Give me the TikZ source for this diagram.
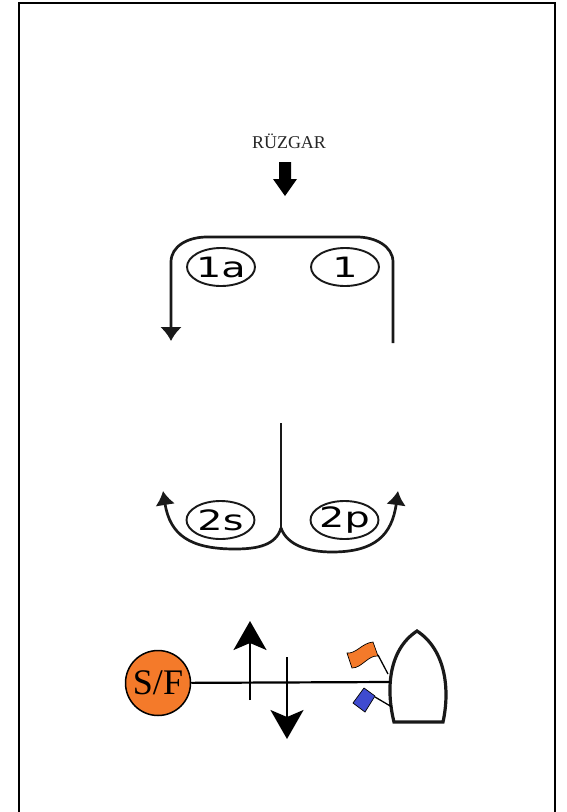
\documentclass[tikz,border=0pt]{standalone}
\usepackage{fontspec}
\setmainfont{Liberation Serif}
\newfontfamily\widesans[FakeStretch=1.42]{DejaVu Sans}
\usetikzlibrary{arrows.meta,shapes.geometric}
\definecolor{sforange}{HTML}{F47A2A}
\definecolor{flagblue}{HTML}{3F4BD0}
\tikzset{
  x=1pt,y=-1pt,
  course/.style={line width=2.7pt,draw=black!90},
  legmark/.style={draw=black!90,line width=1.9pt,ellipse,minimum width=68pt,minimum height=38pt,inner sep=-12pt,font=\fontsize{28}{28}\widesans\selectfont},
  flag/.style={draw=black,line width=0.7pt},
  pole/.style={draw=black,line width=1.3pt},
  longarrow/.style={line width=2.2pt,-{Stealth[length=29pt,width=33pt,inset=7pt]}},
}
\begin{document}
\begin{tikzpicture}
\useasboundingbox (0,0) rectangle (567,812);
\fill[white] (0,0) rectangle (567,812);
\draw[line width=2pt] (19,812) -- (19,3) -- (555,3) -- (555,812);
\node[font=\fontsize{18}{18}\selectfont,text=black!85] (wind) at (289,141) {RÜZGAR};
\fill (279,162) -- (291,162) -- (291,179) -- (297,179) -- (285,196) -- (273,179) -- (279,179) -- cycle;
\node[legmark] (m1a) at (221,267) {1a};
\node[legmark] (m1) at (345,267) {1};
\coordinate (a) at (393,343);
\coordinate (b) at (171,341);
\draw[course,-{Latex[length=14pt,width=22pt]}] (a) -- (393,262) .. controls (393,246) and (375,237) .. (357,237) -- (207,237) .. controls (188,237) and (171,246) .. (171,262) -- (b);
\node[legmark] (m2s) at (220.5,520) {2s};
\node[legmark] (m2p) at (344.5,520) {2p};
\coordinate (c) at (281,423);
\coordinate (d) at (281,528);
\draw[course] (c) -- (d);
\draw[course,-{Latex[length=14pt,width=20pt]}] (d) .. controls (276,545) and (258,549) .. (235,549) .. controls (190,549) and (170,535) .. (163,491);
\draw[course,-{Latex[length=14pt,width=20pt]}] (d) .. controls (287,545) and (308,552) .. (332,552) .. controls (375,552) and (392,535) .. (398,491);
% boat
\draw[line width=3.2pt,draw=black!90] (394,722) .. controls (386,690) and (388,650) .. (417,631) .. controls (446,650) and (450,690) .. (443,722) -- cycle;
% flags
\draw[flag,fill=sforange] (347,653) .. controls (356,654) and (362,643) .. (373,642) -- (378,656) .. controls (368,655) and (362,668) .. (352,668) -- cycle;
\draw[pole] (378,655) -- (388,674);
\draw[flag,fill=flagblue] (353,703) -- (364,688) -- (375,696) -- (365,712) -- cycle;
\draw[pole] (375,697) -- (392,707);
\node[circle,draw=black,line width=1.5pt,fill=sforange,minimum size=65pt,inner sep=0pt,font=\fontsize{36}{36}\selectfont] (sf) at (158,683) {S/F};
\coordinate (line) at (390,682);
\draw[line width=2.2pt] (sf) -- (line);
\coordinate (u1) at (250,700);
\coordinate (u2) at (250,621);
\draw[longarrow] (u1) -- (u2);
\coordinate (v1) at (287,657);
\coordinate (v2) at (287,739);
\draw[longarrow] (v1) -- (v2);
\end{tikzpicture}
\end{document}
